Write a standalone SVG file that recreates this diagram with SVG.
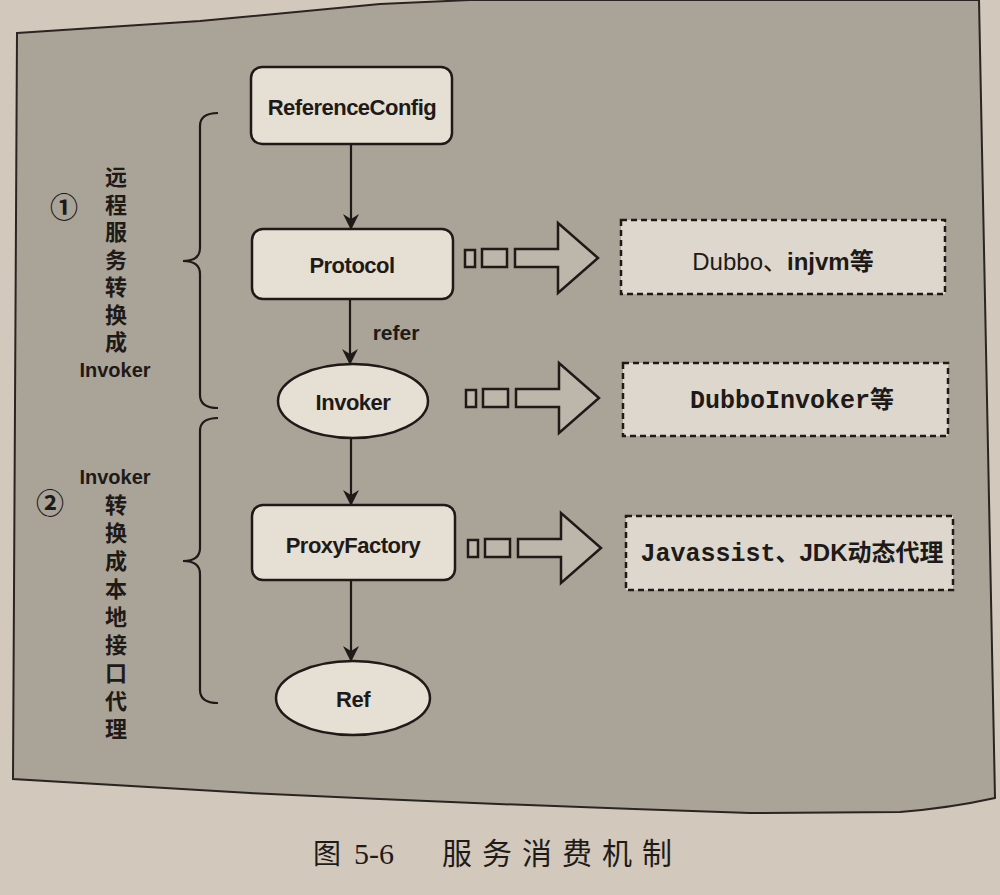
<svg xmlns="http://www.w3.org/2000/svg" width="1000" height="895" viewBox="0 0 1000 895">
<defs>
<style>
.node{fill:#e5dfd4;stroke:#1e1a18;stroke-width:2.5}
.dash{fill:#ddd7cd;stroke:#1e1a18;stroke-width:2.5;stroke-dasharray:6 4}
.conn{fill:none;stroke:#1e1a18;stroke-width:2.2}
.brace{fill:none;stroke:#1e1a18;stroke-width:2.2}
.blk{fill:#bdb6ab;stroke:#1e1a18;stroke-width:2.5;stroke-linejoin:miter}
.nt{font-family:"Liberation Sans","Noto Sans CJK SC",sans-serif;font-weight:bold;font-size:22px;fill:#1e1a18;text-anchor:middle;letter-spacing:-0.5px}
.lbl{font-family:"Liberation Sans","Noto Sans CJK SC",sans-serif;font-weight:bold;font-size:21px;fill:#1e1a18;text-anchor:middle}
.vt{font-family:"Noto Sans CJK SC",sans-serif;font-weight:bold;font-size:22px;fill:#1e1a18;writing-mode:vertical-rl;text-orientation:upright}
.num{font-family:"Noto Sans CJK SC",sans-serif;font-weight:bold;font-size:28px;fill:#1e1a18;text-anchor:middle}
.mono{font-family:"Liberation Mono","Noto Sans CJK SC",monospace;font-weight:bold;font-size:25px;fill:#1e1a18}
.cap{font-family:"Liberation Serif","Noto Sans CJK SC",serif;font-size:30px;fill:#1f1b19}
</style>
<marker id="ah" viewBox="0 0 16 16" refX="15" refY="8" markerWidth="16" markerHeight="16" markerUnits="userSpaceOnUse" orient="auto">
<path d="M0,0 L16,8 L0,16 L5,8 Z" fill="#1e1a18"/>
</marker>
</defs>
<rect x="0" y="0" width="1000" height="895" fill="#d2c8bb"/>
<path id="panel" d="M17,33 L200,21 L380,4 L470,0 L979,0 L995,798 Q950,808 900,812 L750,813 Q500,805 250,793 L13,779 Z" fill="#aaa397" stroke="#2a2522" stroke-width="2"/>
<g id="connectors">
<line class="conn" x1="351" y1="145" x2="351" y2="229" marker-end="url(#ah)"/>
<line class="conn" x1="350" y1="299" x2="350" y2="364" marker-end="url(#ah)"/>
<line class="conn" x1="351" y1="438" x2="351" y2="505" marker-end="url(#ah)"/>
<line class="conn" x1="351" y1="580" x2="351" y2="661" marker-end="url(#ah)"/>
<text class="lbl" x="396" y="340">refer</text>
</g>
<g id="node-referenceconfig">
<rect class="node" x="251" y="67" width="201" height="77" rx="11"/>
<text class="nt" x="352" y="115">ReferenceConfig</text>
</g>
<g id="node-protocol">
<rect class="node" x="252" y="229" width="201" height="70" rx="11"/>
<text class="nt" x="352" y="273">Protocol</text>
</g>
<g id="node-invoker">
<ellipse class="node" cx="353" cy="401" rx="75" ry="37"/>
<text class="nt" x="353" y="410">Invoker</text>
</g>
<g id="node-proxyfactory">
<rect class="node" x="252" y="505" width="203" height="75" rx="11"/>
<text class="nt" x="353" y="553">ProxyFactory</text>
</g>
<g id="node-ref">
<ellipse class="node" cx="353" cy="698" rx="77" ry="37"/>
<text class="nt" x="353" y="707">Ref</text>
</g>
<g id="brace-1">
<path class="brace" d="M218,113 Q200,113 200,126 L200,248 Q200,261 183,261 Q200,261 200,274 L200,395 Q200,408 218,408"/>
<text class="num" x="64" y="218">①</text>
<text class="vt" x="116" y="166" style="letter-spacing:5.5px">远程服务转换成</text>
<text class="lbl" x="115" y="377" style="font-size:20px">Invoker</text>
</g>
<g id="brace-2">
<path class="brace" d="M218,418 Q200,418 200,431 L200,548 Q200,561 183,561 Q200,561 200,574 L200,690 Q200,703 218,703"/>
<text class="num" x="50" y="514">②</text>
<text class="lbl" x="115" y="484" style="font-size:20px">Invoker</text>
<text class="vt" x="116" y="494" style="letter-spacing:6px">转换成本地接口代理</text>
</g>
<g id="arrow-1">
<rect class="blk" x="465" y="250" width="10" height="17"/>
<rect class="blk" x="482" y="249" width="25" height="18"/>
<path class="blk" d="M515,249 L558,249 L558,223 L598,258 L558,293 L558,267 L515,267 Z"/>
</g>
<g id="arrow-2">
<rect class="blk" x="466" y="390" width="10" height="17"/>
<rect class="blk" x="483" y="389" width="25" height="18"/>
<path class="blk" d="M516,389 L559,389 L559,363 L599,398 L559,433 L559,407 L516,407 Z"/>
</g>
<g id="arrow-3">
<rect class="blk" x="468" y="540" width="10" height="17"/>
<rect class="blk" x="485" y="539" width="25" height="18"/>
<path class="blk" d="M518,539 L561,539 L561,513 L601,548 L561,583 L561,557 L518,557 Z"/>
</g>
<g id="node-dubbo-injvm">
<rect class="dash" x="621" y="220" width="324" height="74"/>
<text x="783" y="270" text-anchor="middle" style="font-family:'Liberation Sans','Noto Sans CJK SC',sans-serif;font-size:24px;fill:#1e1a18"><tspan>Dubbo</tspan><tspan style="font-family:'Noto Sans CJK SC',sans-serif">、</tspan><tspan font-weight="bold">injvm</tspan><tspan font-weight="bold" style="font-family:'Noto Sans CJK SC',sans-serif">等</tspan></text>
</g>
<g id="node-dubboinvoker">
<rect class="dash" x="623" y="363" width="325" height="73"/>
<text class="mono" x="792" y="408" text-anchor="middle">DubboInvoker<tspan style="font-family:'Noto Sans CJK SC',sans-serif;font-size:24px">等</tspan></text>
</g>
<g id="node-javassist">
<rect class="dash" x="626" y="516" width="327" height="74"/>
<text class="mono" x="792" y="561" text-anchor="middle">Javassist<tspan style="font-family:'Liberation Sans','Noto Sans CJK SC',sans-serif;font-size:24px">、JDK</tspan><tspan style="font-family:'Noto Sans CJK SC',sans-serif;font-size:24px">动态代理</tspan></text>
</g>
<g id="caption">
<text class="cap"><tspan x="313" y="864" style="font-family:'Noto Sans CJK SC',sans-serif;font-size:28px">图</tspan><tspan x="354" y="864">5-6</tspan><tspan x="442" y="864" style="font-family:'Noto Sans CJK SC',sans-serif;font-size:30px;letter-spacing:10px">服务消费机制</tspan></text>
</g>
</svg>
